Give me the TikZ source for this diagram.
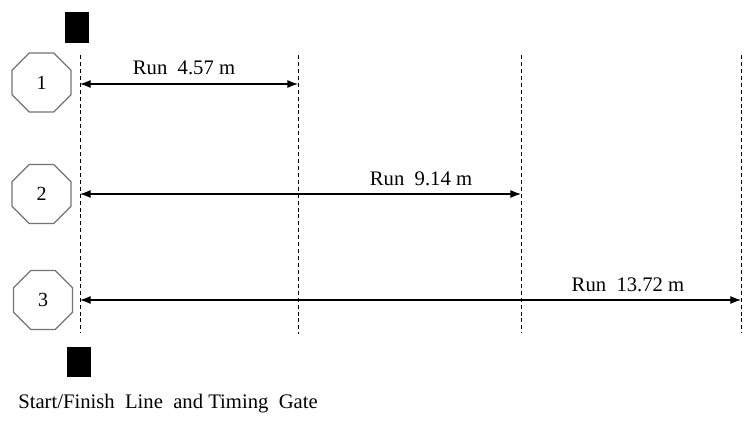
\documentclass[tikz,border=0pt]{standalone}
\usepackage{fontspec}
\setmainfont{Liberation Serif}
\usetikzlibrary{shapes.geometric,arrows.meta}
\begin{document}
\begin{tikzpicture}[x=0.75pt,y=-0.75pt,
  cone/.style={regular polygon,regular polygon sides=8,draw=black!55,line width=0.9pt,minimum size=48pt,inner sep=0pt,font=\fontsize{15}{17}\selectfont},
  gate/.style={fill=black,draw=none,minimum width=18pt,minimum height=23pt,inner sep=0pt},
  marker/.style={line width=0.6pt,dash pattern=on 3pt off 2.2pt},
  runarrow/.style={{Latex[length=8pt,width=6pt]}-{Latex[length=8pt,width=6pt]},line width=0.8pt},
  lbl/.style={font=\fontsize{15.5}{18}\selectfont,inner sep=0pt}]
\useasboundingbox (0,0) rectangle (755,427);
% gates
\node[gate] (g1) at (77,27.5) {};
\node[gate] (g2) at (79,362) {};
% cones
\node[cone] (c1) at (41.5,82.5) {1};
\node[cone] (c2) at (41.5,194) {2};
\node[cone] (c3) at (43,300) {3};
% dashed marker lines
\coordinate (l1t) at (80,55); \coordinate (l1b) at (80,333);
\coordinate (l2t) at (298,55); \coordinate (l2b) at (298,334);
\coordinate (l3t) at (521,55); \coordinate (l3b) at (521,333);
\coordinate (l4t) at (741,55); \coordinate (l4b) at (741,333);
\draw[marker] (l1t) -- (l1b);
\draw[marker] (l2t) -- (l2b);
\draw[marker] (l3t) -- (l3b);
\draw[marker] (l4t) -- (l4b);
% run arrows
\coordinate (a1s) at (80,84); \coordinate (a1e) at (298,84);
\coordinate (a2s) at (80,194); \coordinate (a2e) at (521,194);
\coordinate (a3s) at (80,300); \coordinate (a3e) at (741,300);
\draw[runarrow] (a1s) -- (a1e);
\draw[runarrow] (a2s) -- (a2e);
\draw[runarrow] (a3s) -- (a3e);
% labels
\node[lbl] (t1) at (184,68) {Run\ \ 4.57 m};
\node[lbl] (t2) at (421,179) {Run\ \ 9.14 m};
\node[lbl] (t3) at (628,285) {Run\ \ 13.72 m};
\node[lbl,anchor=west] (cap) at (18,404) {Start/Finish\ \ Line\ \ and Timing\ \ Gate};
\end{tikzpicture}
\end{document}
